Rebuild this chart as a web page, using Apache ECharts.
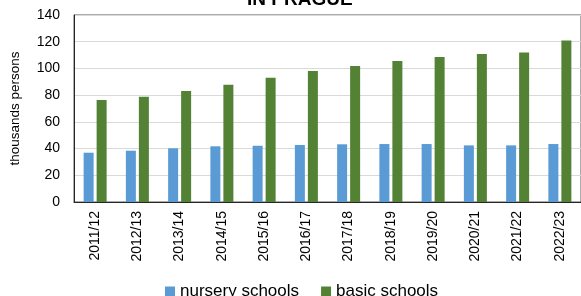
<!DOCTYPE html>
<html>
<head>
<meta charset="utf-8">
<script src="https://cdn.jsdelivr.net/npm/echarts@6/dist/echarts.min.js"></script>
<style>
  html, body { margin: 0; padding: 0; background: #fff; }
  #chart { width: 581px; height: 296px; }
</style>
</head>
<body>
<div id="chart"></div>
<script>
var years = ['2011/12', '2012/13', '2013/14', '2014/15', '2015/16', '2016/17',
             '2017/18', '2018/19', '2019/20', '2020/21', '2021/22', '2022/23'];
var nursery = [36.9, 38.4, 40.2, 41.7, 42.1, 42.7, 43.2, 43.4, 43.4, 42.4, 42.4, 43.4];
var basic = [76.3, 78.8, 83.1, 87.8, 93.0, 98.1, 101.8, 105.5, 108.5, 110.8, 112.0, 121.0];
var seriesNames = ['nursery schools', 'basic schools'];

var font = 'Liberation Sans, Arial, sans-serif';

var option = {
    animation: false,
    title: {
        text: 'IN PRAGUE',
        left: 242,
        top: -15,
        textStyle: { fontFamily: font, fontSize: 19, fontWeight: 'bold', color: '#000' }
    },
    grid: {
        left: 71, right: -2, top: 15, bottom: 94,
        show: true, borderColor: '#595959', borderWidth: 1
    },
    legend: {
        top: 278,
        left: 160,
        icon: 'rect',
        itemWidth: 10,
        itemHeight: 10,
        itemGap: 22,
        textStyle: { fontFamily: font, fontSize: 17, color: '#000' },
        data: seriesNames
    },
    xAxis: {
        type: 'category',
        data: years,
        axisLine: { lineStyle: { color: '#262626' } },
        axisTick: { show: false },
        axisLabel: { rotate: 90, margin: 9, fontFamily: font, fontSize: 14, color: '#000' }
    },
    yAxis: {
        type: 'value',
        min: 0, max: 140, interval: 20,
        name: 'thousands persons',
        nameLocation: 'middle',
        nameGap: 52,
        nameTextStyle: { fontFamily: font, fontSize: 13.5, color: '#000' },
        axisLine: { show: true, lineStyle: { color: '#262626' } },
        axisTick: { show: false },
        axisLabel: { fontFamily: font, fontSize: 14, color: '#000', margin: 14 },
        splitLine: { lineStyle: { color: '#d9d9d9', width: 1 } }
    },
    series: [
        { name: seriesNames[0], type: 'bar', data: nursery, barWidth: 10, barGap: '30%',
          itemStyle: { color: '#5b9bd5' } },
        { name: seriesNames[1], type: 'bar', data: basic, barWidth: 10, barGap: '30%',
          itemStyle: { color: '#548235' } }
    ]
};

var chart = echarts.init(document.getElementById('chart'));
chart.setOption(option);
</script>
</body>
</html>
